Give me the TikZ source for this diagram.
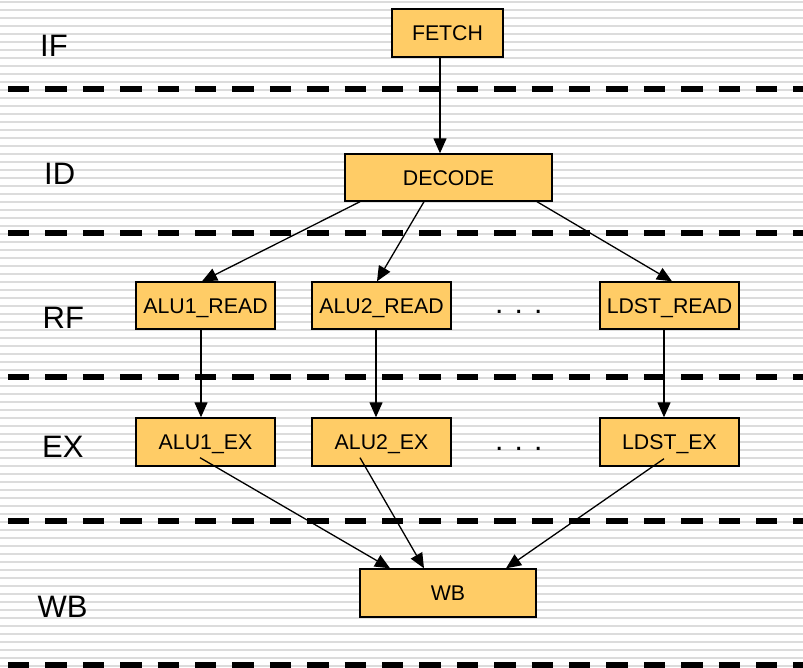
\documentclass[tikz,border=0pt]{standalone}
\usepackage{fontspec}
\setmainfont{Liberation Sans}
\usetikzlibrary{arrows.meta,calc}
\definecolor{boxfill}{HTML}{FFCC66}
\definecolor{stripe}{HTML}{DCDCDC}
\begin{document}
\begin{tikzpicture}[x=1pt,y=-1pt,
  stage/.style={draw=black,line width=1.4pt,fill=boxfill,minimum height=48pt,
                inner sep=0pt,text height=15.2pt,text depth=0pt,
                font=\fontsize{21.3}{24}\selectfont},
  arr/.style={line width=1.3pt,-{Triangle[length=15pt,width=13pt]}},
  sep/.style={line width=5.5pt,dash pattern=on 21.4pt off 16pt},
  lab/.style={anchor=base west,inner sep=0pt,font=\fontsize{31}{36}\selectfont},
  ell/.style={anchor=base west,inner sep=0pt,font=\fontsize{30}{36}\selectfont}]
\useasboundingbox (0,0) rectangle (803,668);
% striped background
\fill[white] (0,0) rectangle (803,668);
\foreach \k in {0,...,83}
  \draw[stripe,line width=2pt] (0,{2+8*\k}) -- (803,{2+8*\k});
% stage separators
\foreach \y in {89,233,377,521,665}
  \draw[sep] (8,\y) -- (803,\y);
% stage names
\node[lab] (lif) at (40,57) {IF};
\node[lab] (lid) at (44,185) {ID};
\node[lab] (lrf) at (42.5,328) {RF};
\node[lab] (lex) at (42,457) {EX};
\node[lab] (lwb) at (37.5,617) {WB};
% pipeline boxes
\node[stage,minimum width=111pt] (fetch) at (447.5,33) {FETCH};
\node[stage,minimum width=207pt,minimum height=47pt] (dec) at (448.5,177.5) {DECODE};
\node[stage,minimum width=139pt,minimum height=47pt] (a1r) at (205.5,305.5) {ALU1\_READ};
\node[stage,minimum width=139pt,minimum height=47pt] (a2r) at (381.5,305.5) {ALU2\_READ};
\node[stage,minimum width=139pt,minimum height=47pt] (ldr) at (669.5,305.5) {LDST\_READ};
\node[stage,minimum width=139pt] (a1e) at (205.5,442) {ALU1\_EX};
\node[stage,minimum width=139pt] (a2e) at (381.5,442) {ALU2\_EX};
\node[stage,minimum width=139pt] (lde) at (669.5,442) {LDST\_EX};
\node[stage,minimum width=176pt] (wb) at (448,593) {WB};
% ellipses
\node[ell] (dots1) at (495,313) {. . .};
\node[ell] (dots2) at (495,450) {. . .};
% connectors
\draw[arr] ([xshift=-7.5pt]fetch.south) -- ([xshift=-8.5pt]dec.north);
\draw[arr] ([xshift=-88.5pt]dec.south) -- ([xshift=-3.5pt]a1r.north);
\draw[arr] ([xshift=-24.5pt]dec.south) -- ([xshift=-4.5pt]a2r.north);
\draw[arr] ([xshift=88.5pt]dec.south) -- ([xshift=2.5pt]ldr.north);
\draw[arr] ([xshift=-4.5pt]a1r.south) -- ([xshift=-4.5pt]a1e.north);
\draw[arr] ([xshift=-5.5pt]a2r.south) -- ([xshift=-5.5pt]a2e.north);
\draw[arr] ([xshift=-5.5pt]ldr.south) -- ([xshift=-5.5pt]lde.north);
\draw[arr] ([xshift=-5.5pt,yshift=9pt]a1e.south) -- ([xshift=-58pt]wb.north);
\draw[arr] ([xshift=-21.5pt,yshift=9pt]a2e.south) -- ([xshift=-24pt]wb.north);
\draw[arr] ([xshift=-5.5pt,yshift=8pt]lde.south) -- ([xshift=58pt]wb.north);
\end{tikzpicture}
\end{document}
